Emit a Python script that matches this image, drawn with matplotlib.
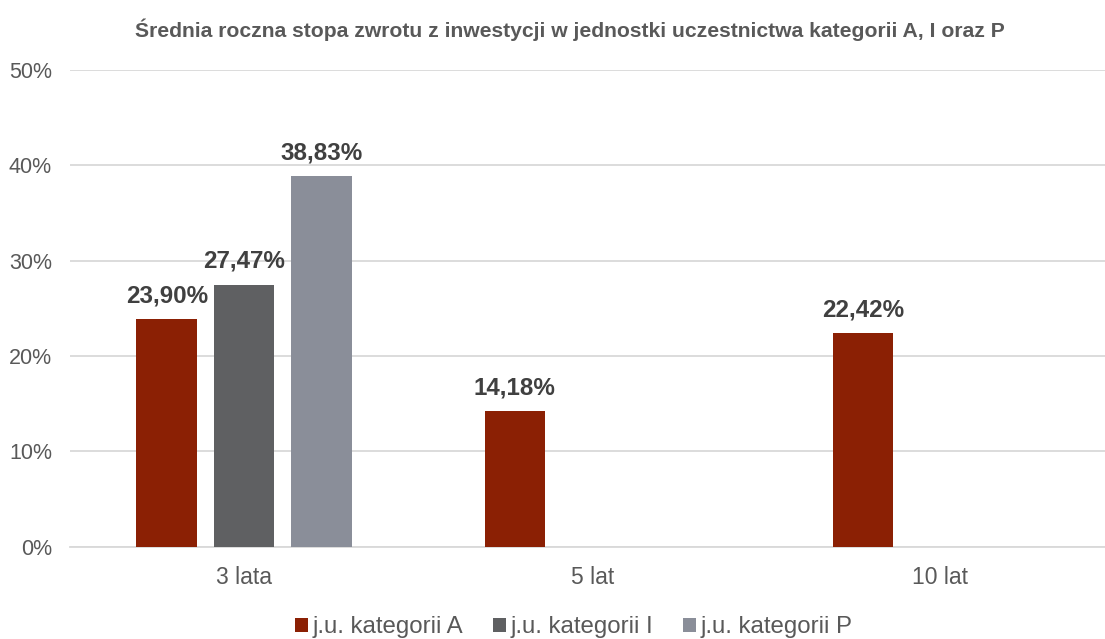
import matplotlib
matplotlib.use("Agg")
import matplotlib.pyplot as plt
import numpy as np

plt.rcParams['font.family'] = ['Liberation Sans', 'DejaVu Sans']

# dane
categories = ["3 lata", "5 lat", "10 lat"]
series_names = ["j.u. kategorii A", "j.u. kategorii I", "j.u. kategorii P"]
vals_A = [23.90, 14.18, 22.42]
vals_I = [27.47, np.nan, np.nan]
vals_P = [38.83, np.nan, np.nan]
colors = ["#8B2004", "#5F6062", "#8A8E99"]
title = "Średnia roczna stopa zwrotu z inwestycji w jednostki uczestnictwa kategorii A, I oraz P"

fig = plt.figure(figsize=(11.05, 6.39), dpi=100)
ax = fig.add_axes([0.0633, 0.1444, 0.9367, 0.7465])

x = np.arange(len(categories))
width = 0.1744
offset = 0.222

for i, (vals, name, c) in enumerate(zip([vals_A, vals_I, vals_P], series_names, colors)):
    bars = ax.bar(x + (i - 1) * offset, vals, width, color=c, label=name, zorder=3)
    for b, v in zip(bars, vals):
        if np.isnan(v):
            continue
        ax.annotate(("%.2f%%" % v).replace(".", ","),
                    (b.get_x() + b.get_width() / 2, v),
                    xytext=(0, 12), textcoords="offset points",
                    ha="center", va="baseline", fontsize=17.4, fontweight="bold",
                    color="#404040")

ax.set_xlim(-0.5, 2.473)
ax.set_ylim(0, 50)
ax.set_yticks(range(0, 51, 10))
ax.set_yticklabels(["%d%%" % t for t in range(0, 51, 10)])
ax.set_xticks(x)
ax.set_xticklabels(categories)
ax.tick_params(axis="both", length=0, labelcolor="#595959")
ax.tick_params(axis="x", pad=14, labelsize=16.5)
ax.tick_params(axis="y", pad=13, labelsize=15.5)
ax.grid(axis="y", color="#D9D9D9", linewidth=1.3, zorder=0)
for s in ["top", "right", "left"]:
    ax.spines[s].set_visible(False)
ax.spines["bottom"].set_color("#D9D9D9")
ax.spines["bottom"].set_linewidth(1.3)

fig.text(0.516, 0.953, title, ha="center", va="center", fontsize=15.2,
         fontweight="bold", color="#595959")

fig.legend(loc="lower center", bbox_to_anchor=(0.519, -0.033), ncol=3, frameon=False,
           fontsize=17.3, labelcolor="#595959", handlelength=0.55, handleheight=0.55,
           handletextpad=0.17, columnspacing=1.25)

fig.savefig("out.png", dpi=100)
